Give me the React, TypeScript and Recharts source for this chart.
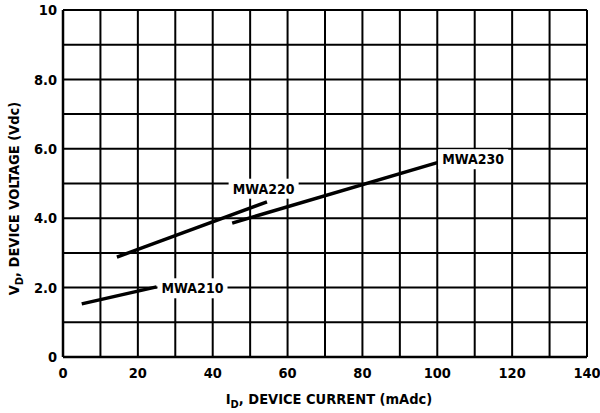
import React from "react";
import { LineChart, Line, XAxis, YAxis, CartesianGrid, ReferenceDot } from "recharts";

const xTicks = [0, 10, 20, 30, 40, 50, 60, 70, 80, 90, 100, 110, 120, 130, 140];
const yTicks = [0, 1, 2, 3, 4, 5, 6, 7, 8, 9, 10];

const mwa210Current = [5, 25];
const mwa210Voltage = [1.53, 2.02];
const mwa220Current = [14.4, 54.5];
const mwa220Voltage = [2.88, 4.47];
const mwa230Current = [45.2, 100];
const mwa230Voltage = [3.86, 5.6];

const labelNames = ["MWA210", "MWA220", "MWA230"];
const labelCurrent = [34.6, 53.6, 109.6];
const labelVoltage = [1.98, 4.85, 5.7];

const toPoints = (xs: number[], ys: number[]) => xs.map((x, i) => ({ x, y: ys[i] }));
const series = [
  toPoints(mwa210Current, mwa210Voltage),
  toPoints(mwa220Current, mwa220Voltage),
  toPoints(mwa230Current, mwa230Voltage),
];

const FONT = "'DejaVu Sans Condensed', 'Liberation Sans Narrow', 'Liberation Sans', Arial, sans-serif";

const XTitle = (props: any) => {
  const vb = props.viewBox || {};
  const cx = vb.x + vb.width / 2;
  return (
    <text x={cx + 4} y={404} textAnchor="middle" fontFamily={FONT} fontWeight="bold" fontSize={14.5} fill="#000">
      <tspan>I</tspan>
      <tspan fontSize={11} dy={4}>D</tspan>
      <tspan dy={-4}>, DEVICE CURRENT (mAdc)</tspan>
    </text>
  );
};

const YTitle = (props: any) => {
  const vb = props.viewBox || {};
  const cy = vb.y + vb.height / 2 + 15;
  const x = 19;
  return (
    <text x={x} y={cy} transform={`rotate(-90 ${x} ${cy})`} textAnchor="middle" fontFamily={FONT} fontWeight="bold" fontSize={14.5} fill="#000">
      <tspan>V</tspan>
      <tspan fontSize={11} dy={4}>D</tspan>
      <tspan dy={-4}>, DEVICE VOLTAGE (Vdc)</tspan>
    </text>
  );
};

const makeLabelShape = (name: string) => (props: any) => {
  const { cx, cy } = props;
  const w = 70;
  const h = 20;
  return (
    <g>
      <rect x={cx - w / 2} y={cy - h / 2} width={w} height={h} fill="#fff" />
      <text x={cx} y={cy} dy="0.36em" textAnchor="middle" fontFamily={FONT} fontWeight="bold" fontSize={14} fill="#000">
        {name}
      </text>
    </g>
  );
};

export default function App() {
  return (
    <div style={{ position: "absolute", left: 0, top: 0, background: "#fff" }}>
      <LineChart width={600} height={413} margin={{ top: 10, right: 13, left: 0, bottom: 0 }}>
        <CartesianGrid stroke="#000" strokeWidth={2} />
        <XAxis
          type="number"
          dataKey="x"
          domain={[0, 140]}
          ticks={xTicks}
          interval={0}
          height={56}
          tickLine={false}
          tickSize={0}
          tickMargin={11}
          axisLine={{ stroke: "#000", strokeWidth: 2.5 }}
          tickFormatter={(v: number) => (v % 20 === 0 ? String(v) : "")}
          tick={{ fill: "#000", fontFamily: FONT, fontWeight: "bold", fontSize: 14.5 }}
          label={<XTitle />}
          allowDataOverflow
        />
        <YAxis
          type="number"
          domain={[0, 10]}
          ticks={yTicks}
          interval={0}
          width={63}
          tickLine={false}
          tickSize={0}
          tickMargin={6}
          axisLine={{ stroke: "#000", strokeWidth: 2.5 }}
          tickFormatter={(v: number) => (v === 0 ? "0" : v === 10 ? "10" : v % 2 === 0 ? v.toFixed(1) : "")}
          tick={{ fill: "#000", fontFamily: FONT, fontWeight: "bold", fontSize: 14.5 }}
          label={<YTitle />}
        />
        {series.map((d, i) => (
          <Line
            key={labelNames[i]}
            data={d}
            dataKey="y"
            type="linear"
            stroke="#000"
            strokeWidth={3.5}
            dot={false}
            isAnimationActive={false}
          />
        ))}
        {labelNames.map((n, i) => (
          <ReferenceDot
            key={n}
            x={labelCurrent[i]}
            y={labelVoltage[i]}
            r={0}
            ifOverflow="visible"
            shape={makeLabelShape(n)}
          />
        ))}
      </LineChart>
    </div>
  );
}
